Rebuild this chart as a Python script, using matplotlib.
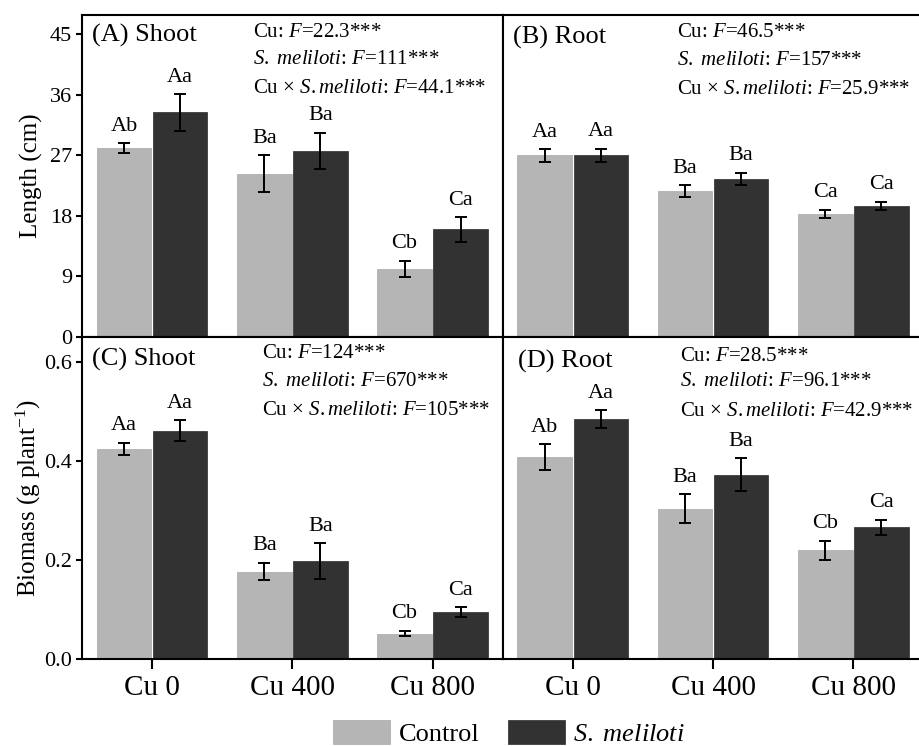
import numpy as np
import matplotlib
matplotlib.use('Agg')
import matplotlib.pyplot as plt

plt.rcParams['font.family'] = ['Liberation Serif', 'DejaVu Serif']
plt.rcParams['mathtext.fontset'] = 'custom'
plt.rcParams['mathtext.rm'] = 'Liberation Serif'
plt.rcParams['mathtext.it'] = 'Liberation Serif:italic'

# Data
groups = ['Cu 0', 'Cu 400', 'Cu 800']

shoot_len_ctrl = [28.1, 24.3, 10.1]
shoot_len_ctrl_err = [0.7, 2.75, 1.25]
shoot_len_sm = [33.4, 27.7, 16.0]
shoot_len_sm_err = [2.7, 2.65, 1.8]
shoot_len_letters = [['Ab', 'Ba', 'Cb'], ['Aa', 'Ba', 'Ca']]

root_len_ctrl = [27.0, 21.7, 18.3]
root_len_ctrl_err = [0.95, 0.9, 0.6]
root_len_sm = [27.0, 23.5, 19.5]
root_len_sm_err = [1.0, 0.9, 0.65]
root_len_letters = [['Aa', 'Ba', 'Ca'], ['Aa', 'Ba', 'Ca']]

shoot_bio_ctrl = [0.424, 0.177, 0.052]
shoot_bio_ctrl_err = [0.0125, 0.0175, 0.0055]
shoot_bio_sm = [0.461, 0.198, 0.095]
shoot_bio_sm_err = [0.0215, 0.036, 0.0105]
shoot_bio_letters = [['Aa', 'Ba', 'Cb'], ['Aa', 'Ba', 'Ca']]

root_bio_ctrl = [0.408, 0.304, 0.220]
root_bio_ctrl_err = [0.0255, 0.0285, 0.019]
root_bio_sm = [0.484, 0.372, 0.266]
root_bio_sm_err = [0.018, 0.0335, 0.015]
root_bio_letters = [['Ab', 'Ba', 'Cb'], ['Aa', 'Ba', 'Ca']]

stats_a = ['22.3', '111', '44.1']
stats_b = ['46.5', '157', '25.9']
stats_c = ['124', '670', '105']
stats_d = ['28.5', '96.1', '42.9']

ctrl_color = '#b5b5b5'
sm_color = '#323232'

fig = plt.figure(figsize=(9.19, 7.46), dpi=100)
axA = fig.add_axes([0.0892, 0.5483, 0.4578, 0.4316])
axB = fig.add_axes([0.547, 0.5483, 0.4578, 0.4316])
axC = fig.add_axes([0.0892, 0.1162, 0.4578, 0.432])
axD = fig.add_axes([0.547, 0.1162, 0.4578, 0.432])

x = np.arange(len(groups))
w = 0.39


def panel(ax, ctrl, ctrl_err, sm, sm_err, letters, title, stats, title_pos, stats_x, stats_y):
    b1 = ax.bar(x - 0.2, ctrl, w, color=ctrl_color, edgecolor='#a8a8a8', linewidth=0.5, label='Control')
    b2 = ax.bar(x + 0.2, sm, w, color=sm_color, edgecolor='#2a2a2a', linewidth=0.5,
                label=r'$\mathit{S.\ meliloti}$')
    for off, vals, errs, labs in [(-0.2, ctrl, ctrl_err, letters[0]), (0.2, sm, sm_err, letters[1])]:
        ax.errorbar(x + off, vals, yerr=errs, fmt='none', ecolor='black',
                    elinewidth=1.4, capsize=4, capthick=1.4)
        for xi, v, e, lab in zip(x + off, vals, errs, labs):
            ax.annotate(lab, (xi, v + e), xytext=(0, 9), textcoords='offset points',
                        ha='center', va='baseline', fontsize=16)
    ax.set_xlim(-0.5, 2.5)
    ax.text(title_pos[0], title_pos[1], title, transform=ax.transAxes,
            ha='left', va='center', fontsize=19)
    lines = ['Cu: $F$=' + stats[0] + '***',
             r'$S.\ meliloti$: $F$=' + stats[1] + '***',
             r'Cu $\times$ $S.meliloti$: $F$=' + stats[2] + '***']
    for ln, yy in zip(lines, stats_y):
        ax.text(stats_x, yy, ln, transform=ax.transAxes, ha='left', va='center', fontsize=15)
    for s in ax.spines.values():
        s.set_linewidth(1.5)
    return b1, b2


h1, h2 = panel(axA, shoot_len_ctrl, shoot_len_ctrl_err, shoot_len_sm, shoot_len_sm_err,
               shoot_len_letters, '(A) Shoot', stats_a, (0.025, 0.935), 0.406, [0.947, 0.862, 0.773])
panel(axB, root_len_ctrl, root_len_ctrl_err, root_len_sm, root_len_sm_err,
      root_len_letters, '(B) Root', stats_b, (0.025, 0.93), 0.4136, [0.945, 0.858, 0.768])
panel(axC, shoot_bio_ctrl, shoot_bio_ctrl_err, shoot_bio_sm, shoot_bio_sm_err,
      shoot_bio_letters, '(C) Shoot', stats_c, (0.025, 0.929), 0.427, [0.949, 0.861, 0.771])
panel(axD, root_bio_ctrl, root_bio_ctrl_err, root_bio_sm, root_bio_sm_err,
      root_bio_letters, '(D) Root', stats_d, (0.037, 0.923), 0.4215, [0.94, 0.861, 0.768])

for ax in (axA, axB):
    ax.set_ylim(0, 47.9)
    ax.set_xticks([])
for ax in (axC, axD):
    ax.set_ylim(0, 0.65)
    ax.set_xticks(x)
    ax.set_xticklabels(groups, fontsize=21)
    ax.tick_params(axis='x', direction='out', length=7, width=1.5, pad=4)

axA.set_yticks([0, 9, 18, 27, 36, 45])
axC.set_yticks([0.0, 0.2, 0.4, 0.6])
axC.set_yticklabels(['0.0', '0.2', '0.4', '0.6'])
for ax in (axA, axC):
    ax.tick_params(axis='y', direction='out', length=4, width=1.5, pad=3, labelsize=16)
for ax in (axB, axD):
    ax.set_yticks([])

axA.text(-0.119, 0.5, 'Length (cm)', transform=axA.transAxes, rotation=90,
         ha='center', va='center', fontsize=18)
axC.text(-0.128, 0.5, 'Biomass (g plant$^{-1}$)', transform=axC.transAxes, rotation=90,
         ha='center', va='center', fontsize=18)

fig.legend([h1, h2], ['Control', r'$\mathit{S.\ meliloti}$'], loc='center',
           bbox_to_anchor=(0.554, 0.0174), ncol=2, frameon=False, fontsize=19,
           handlelength=2.15, handleheight=1.0, handletextpad=0.31, columnspacing=1.1)

fig.savefig('out.png', dpi=100)
